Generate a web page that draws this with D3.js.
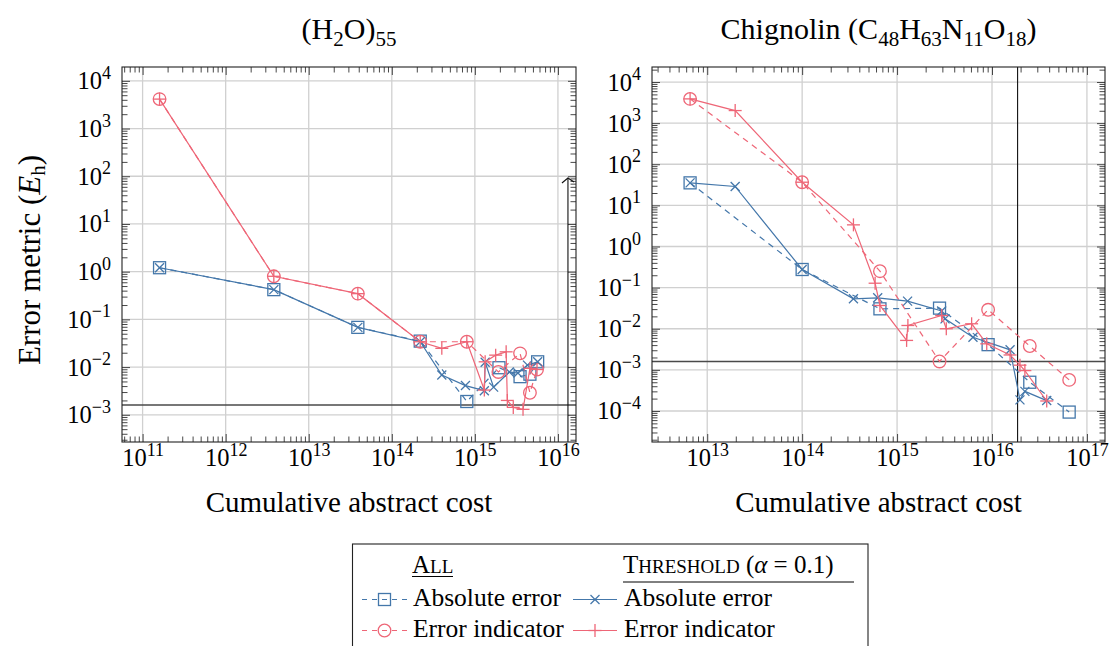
<!DOCTYPE html>
<html><head><meta charset="utf-8">
<script src="https://cdn.jsdelivr.net/npm/d3@7"></script>
<style>
body{margin:0;background:#fff}
svg{display:block}
text{font-family:"Liberation Serif","Times New Roman",serif;fill:#000}
</style>
</head><body>
<svg id="c" width="1109" height="646"></svg>
<script>
// ---------------- DATA ----------------
// (H2O)55 panel
const waterAllAbs = [[1.6e11,1.21],[3.8e12,0.42],[3.9e13,0.068],[2.2e14,0.035],[8.0e14,1.9e-3],[1.95e15,9.7e-3],[3.5e15,6.3e-3],[4.6e15,7.1e-3],[5.7e15,0.0129]];
const waterAllInd = [[1.6e11,4140],[3.8e12,0.80],[3.9e13,0.346],[2.2e14,0.034],[8.0e14,0.034],[1.92e15,7.9e-3],[3.5e15,0.0194],[4.6e15,2.9e-3],[5.6e15,8.9e-3]];
const waterThrAbs = [[1.6e11,1.21],[3.8e12,0.42],[3.9e13,0.068],[2.2e14,0.034],[4.0e14,6.8e-3],[7.7e14,4.1e-3],[1.3e15,3.2e-3],[1.33e15,0.0126],[1.68e15,3.8e-3],[2.6e15,7.9e-3],[3.3e15,7.5e-3],[4.3e15,0.011],[5.7e15,0.0129]];
const waterThrInd = [[1.6e11,4140],[3.8e12,0.80],[3.9e13,0.346],[2.2e14,0.034],[4.0e14,0.0247],[8.0e14,0.034],[1.3e15,3.3e-3],[1.33e15,0.0129],[1.78e15,0.0178],[2.38e15,0.0209],[2.46e15,2.0e-3],[2.9e15,1.43e-3],[3.8e15,1.3e-3],[4.6e15,9.4e-3],[5.6e15,8.9e-3]];
// Chignolin panel
const chigAllAbs = [[6.6e12,35.3],[1.0e14,0.276],[6.6e14,0.0305],[2.8e15,0.0317],[9.1e15,4.1e-3],[2.5e16,5.0e-4],[6.5e16,9.4e-5]];
const chigAllInd = [[6.6e12,3890],[1.0e14,36.6],[6.6e14,0.251],[2.8e15,1.6e-3],[9.1e15,0.0289],[2.5e16,3.8e-3],[6.5e16,5.7e-4]];
const chigThrAbs = [[6.6e12,35.3],[1.97e13,28.8],[1.0e14,0.276],[3.47e14,0.0534],[6.25e14,0.0565],[1.29e15,0.0469],[2.95e15,0.027],[3.2e15,0.0174],[6.3e15,6.2e-3],[1.55e16,3.07e-3],[1.97e16,1.86e-4],[2.22e16,3.0e-4],[3.77e16,1.79e-4]];
const chigThrInd = [[6.6e12,3890],[1.97e13,2024],[1.0e14,36.6],[3.47e14,3.36],[5.87e14,0.128],[6.6e14,0.0368],[1.26e15,5.2e-3],[1.3e15,0.012],[2.95e15,0.021],[3.3e15,0.010],[6.1e15,0.0132],[8.8e15,4.3e-3],[1.55e16,2.3e-3],[1.97e16,1.3e-3],[2.22e16,9.6e-4],[3.77e16,1.75e-4]];

// axis domains and ticks (exponents of 10)
const waterXDomain = [5.65e10, 1.65e16];
const waterYDomain = [1.95e4, 2.69e-4];
const waterXTicks = [11,12,13,14,15,16];
const waterYTicks = [-3,-2,-1,0,1,2,3,4];
const chigXDomain = [2.62e12, 1.55e17];
const chigYDomain = [2.32e4, 1.76e-5];
const chigXTicks = [13,14,15,16,17];
const chigYTicks = [-4,-3,-2,-1,0,1,2,3,4];

// reference lines
const threshold = 1.6e-3;
const waterVLine = 1.32e16, waterVLineTop = 92;
const chigVLine = 1.86e16;

// titles as [text, isSubscript]
const waterTitle = [["(H",0],["2",1],["O)",0],["55",1]];
const chigTitle = [["Chignolin (C",0],["48",1],["H",0],["63",1],["N",0],["11",1],["O",0],["18",1],[")",0]];
const xLabel = "Cumulative abstract cost";
const legendNames = ["Absolute error", "Error indicator"];

// ---------------- STYLE ----------------
const BLUE = "#4477AA", RED = "#EE6677";
const seriesStyle = [
  {color: BLUE, dash: "6,5", marker: "square"},
  {color: RED,  dash: "6,5", marker: "circle"},
  {color: BLUE, dash: null,  marker: "cross"},
  {color: RED,  dash: null,  marker: "plus"}
];

const svg = d3.select("#c");

function drawMarker(g, type, cx, cy, color){
  const s = g.append("g").attr("stroke", color).attr("fill", "none").attr("stroke-width", 1.3);
  if (type === "square") s.append("rect").attr("x", cx-6).attr("y", cy-6).attr("width", 12).attr("height", 12);
  else if (type === "circle") s.append("circle").attr("cx", cx).attr("cy", cy).attr("r", 6.3);
  else if (type === "cross") {
    s.append("line").attr("x1", cx-4.5).attr("y1", cy-4.5).attr("x2", cx+4.5).attr("y2", cy+4.5);
    s.append("line").attr("x1", cx-4.5).attr("y1", cy+4.5).attr("x2", cx+4.5).attr("y2", cy-4.5);
  } else {
    s.append("line").attr("x1", cx-6.5).attr("y1", cy).attr("x2", cx+6.5).attr("y2", cy);
    s.append("line").attr("x1", cx).attr("y1", cy-6.5).attr("x2", cx).attr("y2", cy+6.5);
  }
}

function expText(e){ return (e < 0 ? "\u2212" + (-e) : "" + e); }

function minorTicks(dom){
  const lo = Math.min(...dom), hi = Math.max(...dom), out = [];
  for (let e = Math.floor(Math.log10(lo)); e <= Math.ceil(Math.log10(hi)); e++)
    for (let k = 2; k <= 9; k++){ const v = k * Math.pow(10, e); if (v >= lo && v <= hi) out.push(v); }
  return out;
}

function drawPanel(p){
  const x = d3.scaleLog().domain(p.xDomain).range([p.x0, p.x1]);
  const y = d3.scaleLog().domain(p.yDomain).range([p.y0, p.y1]);
  const g = svg.append("g");
  const xMaj = p.xTicks.map(e => Math.pow(10, e));
  const yMaj = p.yTicks.map(e => Math.pow(10, e));

  // grid
  g.append("g").selectAll("line").data(xMaj).join("line")
    .attr("x1", d => x(d)).attr("x2", d => x(d)).attr("y1", p.y0).attr("y2", p.y1)
    .attr("stroke", "#d0d0d0").attr("stroke-width", 1.3);
  g.append("g").selectAll("line").data(yMaj).join("line")
    .attr("y1", d => y(d)).attr("y2", d => y(d)).attr("x1", p.x0).attr("x2", p.x1)
    .attr("stroke", "#d0d0d0").attr("stroke-width", 1.3);

  // axes (ticks inside)
  function ax(gen, tr, vals, len){
    const a = g.append("g").attr("transform", tr)
      .call(gen.tickValues(vals).tickSize(-len).tickFormat(() => ""));
    a.select(".domain").remove();
    a.selectAll("line").attr("stroke", "#333").attr("stroke-width", 0.9);
    return a;
  }
  const xmin = minorTicks(p.xDomain), ymin = minorTicks(p.yDomain);
  ax(d3.axisBottom(x), `translate(0,${p.y1})`, xmin, 5.5);
  ax(d3.axisTop(x), `translate(0,${p.y0})`, xmin, 5.5);
  ax(d3.axisLeft(y), `translate(${p.x0},0)`, ymin, 5.5);
  ax(d3.axisRight(y), `translate(${p.x1},0)`, ymin, 5.5);
  ax(d3.axisTop(x), `translate(0,${p.y0})`, xMaj, 8);
  ax(d3.axisRight(y), `translate(${p.x1},0)`, yMaj, 8);
  const bx = ax(d3.axisBottom(x), `translate(0,${p.y1})`, xMaj, 8);
  const ly = ax(d3.axisLeft(y), `translate(${p.x0},0)`, yMaj, 8);

  bx.selectAll("text").each(function(d){
    const t = d3.select(this).text(null).attr("y", 24).attr("dy", null)
      .style("font-size", "24.5px").attr("text-anchor", "middle");
    t.append("tspan").text("10");
    t.append("tspan").attr("dy", -10.5).style("font-size", "18px").text(expText(Math.round(Math.log10(d))));
  });
  ly.selectAll("text").each(function(d){
    const t = d3.select(this).text(null).attr("x", -11).attr("y", 8).attr("dy", null)
      .style("font-size", "24.5px").attr("text-anchor", "end");
    t.append("tspan").text("10");
    t.append("tspan").attr("dy", -10.5).style("font-size", "18px").text(expText(Math.round(Math.log10(d))));
  });

  // reference lines
  g.append("line").attr("x1", p.x0).attr("x2", p.x1).attr("y1", y(threshold)).attr("y2", y(threshold))
    .attr("stroke", "#4a4a4a").attr("stroke-width", 1.6);
  if (p.vline){
    const vx = x(p.vline);
    const vt = p.vlineTop ? y(p.vlineTop) : p.y0;
    g.append("line").attr("x1", vx).attr("x2", vx).attr("y1", vt).attr("y2", p.y1)
      .attr("stroke", "#111").attr("stroke-width", 1.1);
    if (p.vlineTop){
      g.append("path").attr("d", `M${vx-6},${vt+5} L${vx},${vt} L${vx+6},${vt+4}`)
        .attr("fill", "none").attr("stroke", "#111").attr("stroke-width", 1.1);
    }
  }

  // frame
  g.append("rect").attr("x", p.x0).attr("y", p.y0).attr("width", p.x1 - p.x0).attr("height", p.y1 - p.y0)
    .attr("fill", "none").attr("stroke", "#222").attr("stroke-width", 1.1);

  // series
  const line = d3.line().x(d => x(d[0])).y(d => y(d[1]));
  p.series.forEach((data, i) => {
    const st = seriesStyle[i];
    const sg = g.append("g");
    sg.append("path").datum(data).attr("d", line).attr("fill", "none")
      .attr("stroke", st.color).attr("stroke-width", 1.2)
      .attr("stroke-dasharray", st.dash);
    data.forEach(d => drawMarker(sg, st.marker, x(d[0]), y(d[1]), st.color));
  });

  // title
  const cx = (p.x0 + p.x1) / 2;
  const t = svg.append("text").attr("x", cx).attr("y", 39).attr("text-anchor", "middle").style("font-size", "30px");
  let low = false;
  p.title.forEach(([s, sub]) => {
    const ts = t.append("tspan").text(s);
    if (sub && !low){ ts.attr("dy", 7); low = true; }
    else if (!sub && low){ ts.attr("dy", -7); low = false; }
    if (sub) ts.style("font-size", "21px");
  });
  // x label
  svg.append("text").attr("x", cx).attr("y", 512).attr("text-anchor", "middle").style("font-size", "29px").text(xLabel);
}

const panels = [
  {x0: 122, x1: 576, y0: 67, y1: 442, xDomain: waterXDomain, yDomain: waterYDomain,
   xTicks: waterXTicks, yTicks: waterYTicks, vline: waterVLine, vlineTop: waterVLineTop,
   series: [waterAllAbs, waterAllInd, waterThrAbs, waterThrInd], title: waterTitle},
  {x0: 652, x1: 1105, y0: 67, y1: 442, xDomain: chigXDomain, yDomain: chigYDomain,
   xTicks: chigXTicks, yTicks: chigYTicks, vline: chigVLine, vlineTop: null,
   series: [chigAllAbs, chigAllInd, chigThrAbs, chigThrInd], title: chigTitle}
];
panels.forEach(drawPanel);

// y label
const yl = svg.append("text").attr("transform", "translate(40,260) rotate(-90)")
  .attr("text-anchor", "middle").style("font-size", "31px");
yl.append("tspan").text("Error metric (");
yl.append("tspan").style("font-style", "italic").text("E");
yl.append("tspan").attr("dy", 5).style("font-size", "21px").text("h");
yl.append("tspan").attr("dy", -5).text(")");

// ---------------- LEGEND ----------------
const lg = svg.append("g");
lg.append("rect").attr("x", 352.5).attr("y", 544).attr("width", 515.5).attr("height", 120)
  .attr("fill", "#fff").attr("stroke", "#222").attr("stroke-width", 1.1);
// headers (small caps)
const h1 = lg.append("text").attr("x", 412).attr("y", 573).style("font-size", "25px");
h1.append("tspan").text("A");
h1.append("tspan").style("font-size", "19px").text("LL");
lg.append("line").attr("x1", 412).attr("x2", 453).attr("y1", 576.5).attr("y2", 576.5).attr("stroke", "#000").attr("stroke-width", 1);
const h2 = lg.append("text").attr("x", 623).attr("y", 573).style("font-size", "25px");
h2.append("tspan").text("T");
h2.append("tspan").style("font-size", "19px").text("HRESHOLD");
h2.append("tspan").text(" (");
h2.append("tspan").style("font-style", "italic").text("\u03b1");
h2.append("tspan").text(" = 0.1)");
lg.append("line").attr("x1", 623).attr("x2", 854).attr("y1", 582).attr("y2", 582).attr("stroke", "#000").attr("stroke-width", 1);

const rowsY = [599.5, 630.5];
const colsX = [[362, 407, 413], [573, 617, 624]];
seriesStyle.forEach((st, i) => {
  const col = Math.floor(i / 2), row = i % 2;
  const [a, b, tx] = colsX[col], yy = rowsY[row];
  lg.append("line").attr("x1", a).attr("x2", b).attr("y1", yy).attr("y2", yy)
    .attr("stroke", st.color).attr("stroke-width", 1.2).attr("stroke-dasharray", st.dash ? "5,5" : null);
  drawMarker(lg, st.marker, (a + b) / 2, yy, st.color);
  lg.append("text").attr("x", tx).attr("y", yy + 6).style("font-size", "25.5px").text(legendNames[row]);
});
</script>
</body></html>
